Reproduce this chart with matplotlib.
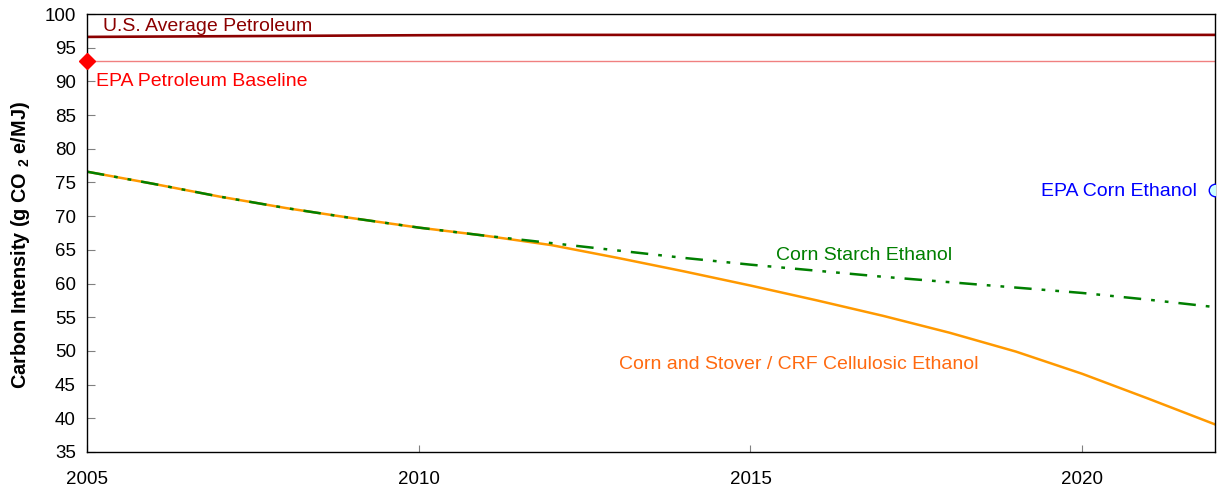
import numpy as np
import matplotlib.pyplot as plt

plt.rcParams['font.family'] = ['Liberation Sans', 'DejaVu Sans']
plt.rcParams['mathtext.fontset'] = 'custom'
plt.rcParams['mathtext.rm'] = 'Liberation Sans'
plt.rcParams['mathtext.bf'] = 'Liberation Sans:bold'

# Data
years = list(range(2005, 2023))
petroleum = [96.6, 96.65, 96.7, 96.75, 96.8, 96.85, 96.88, 96.9, 96.9, 96.9,
             96.9, 96.9, 96.9, 96.9, 96.9, 96.9, 96.9, 96.9]
corn_starch = [76.6, 74.8, 72.9, 71.2, 69.7, 68.3, 67.1, 66.0, 64.9, 63.8,
               62.8, 61.9, 61.0, 60.2, 59.4, 58.6, 57.6, 56.5]
corn_stover = [76.6, 74.8, 72.9, 71.2, 69.7, 68.3, 67.1, 65.7, 63.8, 61.8,
               59.7, 57.5, 55.2, 52.7, 49.9, 46.6, 42.9, 39.1]
epa_baseline = 93.0
epa_baseline_year = 2005
epa_corn = 73.9
epa_corn_year = 2022

fig = plt.figure(figsize=(12.18, 4.93), dpi=100)
ax = fig.add_axes([0.0714, 0.0832, 0.9261, 0.8884])

ax.plot(years, petroleum, color='#8B0000', lw=1.9)
ax.axhline(epa_baseline, color='#F08080', lw=1.0)
ax.plot(years, corn_stover, color='#FF9900', lw=1.8)
ax.plot(years, corn_starch, color='#007F00', lw=1.8,
        linestyle=(0, (7, 4, 1.5, 4, 1.5, 4)))
ax.plot([epa_baseline_year], [epa_baseline], marker='D', color='red',
        markersize=8, clip_on=False, zorder=5)
ax.plot([epa_corn_year], [epa_corn], marker='o', markerfacecolor='#CCFFFF',
        markeredgecolor='#0000FF', markersize=9, mew=1.0, zorder=5)

ax.text(2005.24, 96.95, 'U.S. Average Petroleum', color='#8B0000',
        fontsize=14, va='bottom')
ax.text(2005.13, 89.95, 'EPA Petroleum Baseline', color='red',
        fontsize=14, va='center')
ax.text(2021.73, 73.6, 'EPA Corn Ethanol', color='#0000FF',
        fontsize=14, va='center', ha='right')
ax.text(2016.71, 64.15, 'Corn Starch Ethanol', color='#007F00',
        fontsize=14, va='center', ha='center')
ax.text(2015.72, 47.95, 'Corn and Stover / CRF Cellulosic Ethanol',
        color='#FF6A10', fontsize=14, va='center', ha='center')

ax.set_xlim(2005, 2022)
ax.set_ylim(35, 100)
ax.set_xticks([2005, 2010, 2015, 2020])
ax.set_yticks(np.arange(35, 101, 5))
ax.tick_params(axis='both', direction='in', labelsize=13.5, color='#808080')
ax.tick_params(axis='x', pad=14, length=5)
ax.tick_params(axis='y', pad=8, length=6)
for s in ax.spines.values():
    s.set_color('black')
    s.set_linewidth(1.0)

ax.set_ylabel(r'Carbon Intensity (g CO $_\mathbf{2}$ e/MJ)', fontsize=14.3,
              fontweight='bold')
ax.yaxis.set_label_coords(-0.0485, 0.473)

fig.savefig('out.png', dpi=100)
